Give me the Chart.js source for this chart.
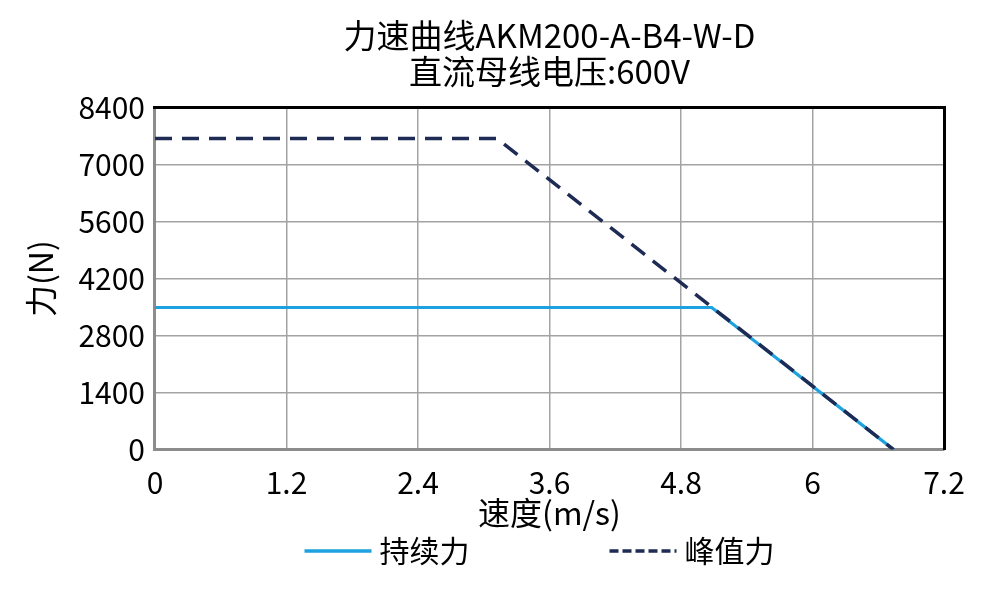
<!DOCTYPE html>
<html>
<head>
<meta charset="utf-8">
<script src="https://cdn.jsdelivr.net/npm/chart.js@4.4.1/dist/chart.umd.min.js"></script>
<style>
  html, body { margin: 0; background: #fff; }
  #wrap { width: 1002px; height: 592px; }
</style>
</head>
<body>
<div id="wrap"><canvas id="c"></canvas></div>
<script>
"use strict";
const FONT = "'Noto Sans CJK SC', 'Noto Sans', sans-serif";

// --- data ----------------------------------------------------------------- #
const titleLines = ["力速曲线AKM200-A-B4-W-D", "直流母线电压:600V"];
const seriesNames = ["持续力", "峰值力"];
const contSpeed = [0, 5.08, 6.74];
const contForce = [3490, 3490, 0];
const peakSpeed = [0, 3.12, 6.74];
const peakForce = [7640, 7640, 0];
const xTicks = ["0", "1.2", "2.4", "3.6", "4.8", "6", "7.2"];
const yTicks = ["0", "1400", "2800", "4200", "5600", "7000", "8400"];

const pts = (xs, ys) => xs.map((x, i) => ({ x, y: ys[i] }));

// legend sits under the x title, spread wide like the original
const bottomLegend = {
  id: "bottomLegend",
  afterDraw(chart) {
    const ctx = chart.ctx, a = chart.chartArea;
    const items = chart.data.datasets;
    const lineW = 67, gap = 8, space = 140, y = 551;
    ctx.save();
    ctx.font = `30px ${FONT}`;
    ctx.textBaseline = "middle";
    const widths = items.map(d => lineW + gap + ctx.measureText(d.label).width);
    const total = widths.reduce((s, w) => s + w, 0) + space * (items.length - 1);
    let x = (a.left + a.right) / 2 - total / 2 - 10;
    items.forEach((d, i) => {
      ctx.strokeStyle = d.borderColor;
      ctx.lineWidth = 3.5;
      ctx.setLineDash(d.legendDash || []);
      ctx.beginPath(); ctx.moveTo(x, y); ctx.lineTo(x + lineW, y); ctx.stroke();
      ctx.setLineDash([]);
      ctx.fillStyle = "#000";
      ctx.fillText(d.label, x + lineW + gap, y);
      x += widths[i] + space;
    });
    ctx.restore();
  }
};

const gridStyle = { color: "#a3a3a3", lineWidth: 1.5, drawTicks: false };
const tickFont = { family: FONT, size: 30 };
const axisTitleFont = { family: FONT, size: 32 };

new Chart(document.getElementById("c"), {
  type: "line",
  data: {
    datasets: [
      { label: seriesNames[0], data: pts(contSpeed, contForce), borderColor: "#1ea2df", borderWidth: 3.2,
        pointRadius: 0, fill: false, order: 1, legendDash: [] },
      { label: seriesNames[1], data: pts(peakSpeed, peakForce), borderColor: "#1d2b55", borderWidth: 3.5,
        borderDash: [17, 10], pointRadius: 0, fill: false, order: 0, legendDash: [9, 4] },
    ]
  },
  options: {
    responsive: true,
    maintainAspectRatio: false,
    animation: false,
    layout: { padding: { left: 22, right: 50, top: 0, bottom: 60 } },
    plugins: {
      legend: { display: false },
      tooltip: { enabled: false },
      title: {
        display: true, text: titleLines, color: "#000", fullSize: false,
        font: { family: FONT, size: 33, weight: "normal", lineHeight: 1.1 },
        padding: { top: 17, bottom: 10 }
      }
    },
    scales: {
      x: {
        type: "linear", min: 0, max: 7.2,
        grid: gridStyle,
        border: { color: "#8c8c8c", width: 3 },
        ticks: { stepSize: 1.2, color: "#000", font: tickFont, padding: 15, maxRotation: 0,
                 callback: (v, i) => xTicks[i] },
        title: { display: true, text: "速度(m/s)", color: "#000", font: axisTitleFont,
                 padding: { top: -22, bottom: 0 } }
      },
      y: {
        min: 0, max: 8400,
        grid: gridStyle,
        border: { color: "#8c8c8c", width: 3 },
        ticks: { stepSize: 1400, color: "#000", font: tickFont, padding: 10,
                 callback: (v, i) => yTicks[i] },
        title: { display: true, text: "力(N)", color: "#000", font: axisTitleFont,
                 padding: { top: 0, bottom: 8 } }
      },
      xTop: {
        type: "linear", position: "top", min: 0, max: 7.2,
        grid: { display: false }, ticks: { display: false },
        border: { color: "#000", width: 3 }
      },
      yRight: {
        type: "linear", position: "right", min: 0, max: 8400,
        grid: { display: false }, ticks: { display: false },
        border: { color: "#000", width: 3 }
      }
    }
  },
  plugins: [bottomLegend]
});
</script>
</body>
</html>
